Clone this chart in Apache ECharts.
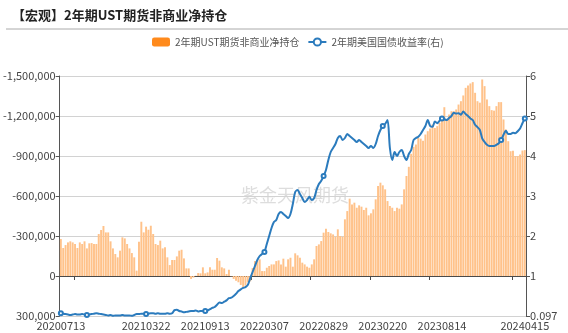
<!DOCTYPE html>
<html><head><meta charset="utf-8">
<script src="https://cdn.jsdelivr.net/npm/echarts@6/dist/echarts.min.js"></script>
<style>html,body{margin:0;padding:0;background:#fff}#c{width:568px;height:333px}</style>
</head><body><div id="c"></div><script>
var titleText = '【宏观】2年期UST期货非商业净持仓';
var barName = '2年期UST期货非商业净持仓';
var lineName = '2年期美国国债收益率(右)';
var startDate = '20200713';
var pointCount = 197;
var labelIdx = [0, 36, 61, 86, 111, 136, 161, 196];
var symbolIdx = [0, 11, 36, 61, 86, 111, 136, 161, 186, 196];
var tickIdx = [6, 81, 106, 131, 156, 191];
var leftTicks = { min: -1500000, max: 300000, interval: 300000 };
var rightTicks = { min: 0, max: 6, interval: 1, bottomLabel: '0.097', bottomValue: 0.097 };

var netPosition = [
-277000,-210000,-232000,-252000,-260000,-252000,-240000,-210000,-252000,-240000,
-260000,-207000,-245000,-247000,-240000,-240000,-315000,-345000,-375000,-327000,
-327000,-260000,-207000,-165000,-140000,-190000,-290000,-282000,-240000,-207000,
-172000,-140000,-40000,-257000,-407000,-327000,-370000,-347000,-377000,-315000,
-240000,-232000,-265000,-207000,-215000,-140000,-82000,-120000,-120000,-147000,
-190000,-197000,-132000,-57000,-57000,22000,12000,-2000,-22000,-20000,
-65000,-20000,-27000,-65000,-47000,-47000,-135000,-115000,-65000,-57000,
-15000,-47000,2000,22000,35000,47000,67000,85000,72000,47000,
40000,-60000,-112000,-112000,-125000,-37000,-37000,-62000,-75000,-87000,
-87000,-112000,-117000,-87000,-130000,-70000,-125000,-137000,-70000,-170000,
-155000,-137000,-100000,-87000,-70000,-62000,-87000,-125000,-225000,-237000,
-262000,-325000,-355000,-330000,-320000,-312000,-295000,-350000,-300000,-295000,
-425000,-487000,-580000,-537000,-550000,-512000,-530000,-520000,-495000,-512000,
-455000,-470000,-500000,-575000,-675000,-700000,-680000,-650000,-562000,-525000,
-512000,-487000,-512000,-505000,-537000,-650000,-750000,-819000,-916000,-969000,
-986000,-1036000,-1030000,-1015000,-1061000,-1086000,-1106000,-1136000,-1110000,-1124000,
-1149000,-1174000,-1266000,-1174000,-1211000,-1236000,-1236000,-1249000,-1286000,-1311000,
-1354000,-1411000,-1429000,-1444000,-1454000,-1374000,-1311000,-1300000,-1474000,-1424000,
-1324000,-1274000,-1244000,-1240000,-1274000,-1304000,-1304000,-1174000,-1099000,-1011000,
-936000,-940000,-899000,-899000,-911000,-941000,-944000
];

var yield2y = [
0.158,0.15,0.14,0.13,0.12,0.13,0.14,0.13,0.13,0.14,
0.13,0.12,0.13,0.14,0.15,0.16,0.15,0.14,0.13,0.12,
0.11,0.12,0.10,0.11,0.11,0.11,0.12,0.11,0.11,0.11,
0.10,0.12,0.14,0.14,0.15,0.15,0.14,0.15,0.16,0.16,
0.15,0.16,0.15,0.15,0.15,0.16,0.15,0.16,0.23,0.24,
0.21,0.20,0.18,0.19,0.20,0.21,0.21,0.22,0.20,0.21,
0.21,0.21,0.22,0.25,0.28,0.30,0.35,0.40,0.39,0.42,
0.45,0.50,0.51,0.55,0.60,0.66,0.70,0.73,0.75,0.80,
0.95,1.10,1.25,1.40,1.50,1.55,1.60,1.80,2.00,2.20,
2.35,2.40,2.55,2.60,2.55,2.50,2.45,2.55,2.80,3.10,
3.15,3.05,2.95,2.85,2.90,2.98,2.90,2.95,3.15,3.30,
3.38,3.50,3.65,3.90,4.10,4.20,4.30,4.45,4.50,4.40,
4.45,4.55,4.50,4.45,4.40,4.35,4.40,4.35,4.30,4.25,
4.20,4.25,4.20,4.30,4.50,4.65,4.75,4.80,4.90,4.20,
3.90,4.10,4.00,4.10,4.15,4.00,3.90,4.05,4.15,4.40,
4.45,4.48,4.55,4.65,4.75,4.90,4.75,4.73,4.86,4.82,
4.88,4.94,4.92,4.90,4.95,5.00,5.08,5.06,5.07,5.03,
5.11,5.05,5.00,4.94,4.90,4.78,4.72,4.65,4.44,4.35,
4.28,4.25,4.25,4.25,4.28,4.32,4.40,4.53,4.63,4.55,
4.55,4.58,4.57,4.62,4.69,4.82,4.94
];

// weekly category dates
var dates = [];
(function () {
  var d = new Date(Date.UTC(+startDate.slice(0,4), +startDate.slice(4,6) - 1, +startDate.slice(6,8)));
  for (var i = 0; i < pointCount; i++) {
    var s = d.getUTCFullYear() + ('0' + (d.getUTCMonth() + 1)).slice(-2) + ('0' + d.getUTCDate()).slice(-2);
    dates.push(s);
    d = new Date(d.getTime() + 7 * 86400000);
  }
})();

// right axis: first segment spans [0.097, 1] like the reference
function toAxis(v) {
  var b = rightTicks.bottomValue;
  return v >= 1 ? v : (v - b) / (1 - b);
}

var FONT = "'Microsoft YaHei','Noto Sans CJK SC',sans-serif";
var chart = echarts.init(document.getElementById('c'), null, { renderer: 'canvas' });
chart.setOption({
  animation: false,
  backgroundColor: '#fff',
  textStyle: { fontFamily: FONT },
  title: {
    text: titleText, left: 7, top: 4,
    textStyle: { fontSize: 13, fontWeight: 'bold', color: '#222', fontFamily: FONT }
  },
  graphic: [
    { type: 'line', shape: { x1: 6, y1: 29, x2: 568, y2: 29 }, style: { stroke: '#aaa', lineWidth: 1 }, silent: true },
    { type: 'text', left: 241, top: 186, z: 0, silent: true,
      style: { text: '紫金天风期货', fill: 'rgba(150,150,150,0.32)', font: '18px ' + FONT } }
  ],
  legend: {
    left: 147, top: 32, itemWidth: 18, itemHeight: 9, itemGap: 8,
    textStyle: { fontSize: 10, color: '#555', fontFamily: FONT },
    data: [
      { name: barName, icon: 'roundRect', itemStyle: { color: '#ff8a1c', opacity: 1 } },
      { name: lineName }
    ]
  },
  grid: { left: 57, right: 42, top: 76, bottom: 17, containLabel: false },
  xAxis: [
    {
      type: 'category', data: dates, position: 'bottom',
      axisLine: { show: false, onZero: false },
      axisTick: { show: false },
      axisLabel: {
        interval: function (i) { return labelIdx.indexOf(i) >= 0; },
        fontSize: 11, color: '#444', margin: 4, hideOverlap: false, fontFamily: FONT
      },
      splitLine: { show: false }
    },
    {
      type: 'category', data: dates, position: 'top',
      axisLine: { show: true, onZero: true, onZeroAxisIndex: 0, lineStyle: { color: '#4a4a4a', width: 1 } },
      axisTick: { show: true, inside: true, length: 4, interval: function (i) { return tickIdx.indexOf(i) >= 0; }, lineStyle: { color: '#4a4a4a' } },
      axisLabel: { show: false },
      splitLine: { show: false }
    }
  ],
  yAxis: [
    {
      type: 'value', inverse: true, min: leftTicks.min, max: leftTicks.max, interval: leftTicks.interval,
      position: 'left',
      axisLine: { show: true, lineStyle: { color: '#555' } },
      axisTick: { show: true, length: 4, lineStyle: { color: '#555' } },
      axisLabel: { fontSize: 11, color: '#444', margin: 4, fontFamily: FONT,
        formatter: function (v) { return v.toLocaleString('en-US'); } },
      splitLine: { show: true, lineStyle: { color: '#d2d2d2', width: 1 } }
    },
    {
      type: 'value', min: rightTicks.min, max: rightTicks.max, interval: rightTicks.interval,
      position: 'right',
      axisLine: { show: true, lineStyle: { color: '#555' } },
      axisTick: { show: true, length: 4, lineStyle: { color: '#555' } },
      axisLabel: { fontSize: 11, color: '#444', margin: 4, fontFamily: FONT,
        formatter: function (v) { return v === rightTicks.min ? rightTicks.bottomLabel : String(v); } },
      splitLine: { show: false }
    }
  ],
  series: [
    {
      name: barName, type: 'bar', xAxisIndex: 0, yAxisIndex: 0,
      data: netPosition, barCategoryGap: '18%',
      itemStyle: { color: '#ffc28a' }, z: 2
    },
    {
      name: lineName, type: 'line', xAxisIndex: 0, yAxisIndex: 1,
      data: yield2y.map(toAxis),
      smooth: 0.3, showSymbol: true, showAllSymbol: true,
      symbol: 'emptyCircle',
      symbolSize: function (v, p) { return symbolIdx.indexOf(p.dataIndex) >= 0 ? 4 : 0; },
      lineStyle: { color: '#2b7bbd', width: 2 },
      itemStyle: { color: '#2b7bbd', borderWidth: 1 },
      z: 3
    }
  ]
});
</script></body></html>
